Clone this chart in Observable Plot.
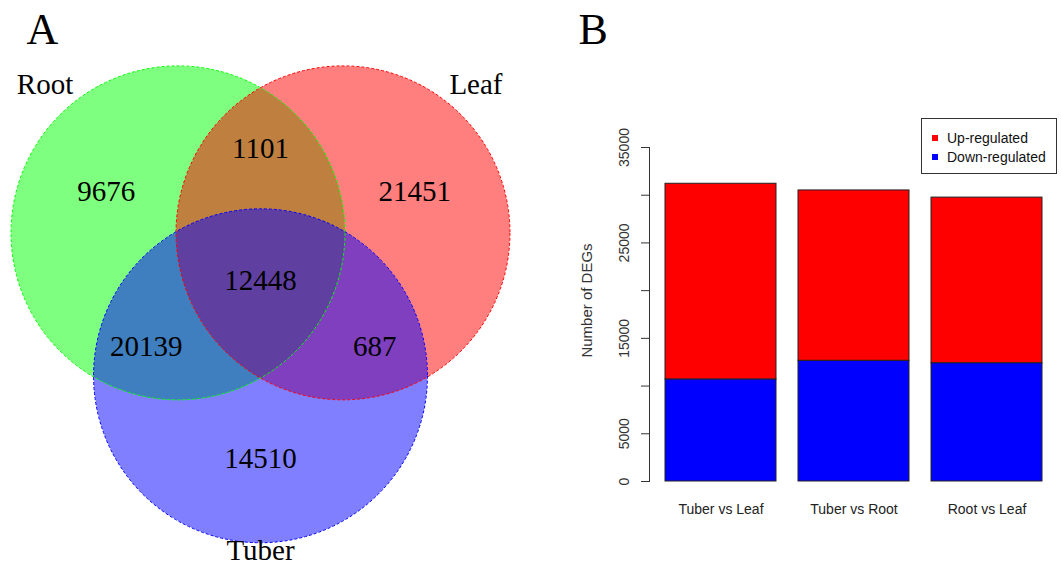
<!DOCTYPE html>
<html>
<head>
<meta charset="utf-8">
<script src="https://cdn.jsdelivr.net/npm/d3@7"></script>
<script src="https://cdn.jsdelivr.net/npm/@observablehq/plot@0.6"></script>
<style>
  body { margin: 0; background: #fff; }
  #wrap { position: relative; width: 1062px; height: 566px; overflow: hidden; background: #fff; }
  #venn { position: absolute; left: 0; top: 0; }
  #bars { position: absolute; left: 530px; top: 0; }
  #legend {
    position: absolute; left: 921px; top: 118px; width: 136px; height: 56px;
    border: 1px solid #333; box-sizing: border-box;
    font-family: "Liberation Sans", Arial, sans-serif; font-size: 14px; color: #111;
  }
  #legend .item { position: absolute; left: 10px; height: 18px; line-height: 18px; white-space: nowrap; }
  #legend .sw { display: inline-block; width: 6px; height: 6px; margin-right: 9px; vertical-align: middle; position: relative; top: -1px; }
</style>
</head>
<body>
<div id="wrap">
  <div id="venn"></div>
  <div id="bars"></div>
  <div id="legend"></div>
</div>
<script>
// ---------- Panel A: Venn diagram data ----------
const setNames = ["Root", "Leaf", "Tuber"];
const setColors = ["#00ff00", "#ff0000", "#0000ff"];
// regions: which sets each region belongs to, and its count
const regionSets = [[0], [1], [2], [0, 1], [0, 2], [1, 2], [0, 1, 2]];
const regionCounts = [9676, 21451, 14510, 1101, 20139, 687, 12448];

// ---------- Panel B: stacked bar data ----------
const comparisons = ["Tuber vs Leaf", "Tuber vs Root", "Root vs Leaf"];
const downRegulated = [10700, 12650, 12400];
const upRegulated = [20500, 17850, 17350];
const regulation = ["Up-regulated", "Down-regulated"];
const regulationColors = ["#ff0000", "#0000ff"];
const yTicks = [0, 5000, 10000, 15000, 20000, 25000, 30000, 35000];
const yTickLabels = [0, 5000, 15000, 25000, 35000];

// ---------- Venn layout (equilateral arrangement, VennDiagram-like) ----------
const unitPx = 165;            // pixels per unit of centre spacing
const radiusRatio = 1.012;     // circle radius relative to centre spacing
const setAngles = [150, 30, 270];   // direction of each circle centre from centroid
const catPos = [-42, 42, 180];      // label position around its circle (deg clockwise from north)
const catDist = [0.19, 0.19, 0.045];// label distance beyond circle edge (fraction of radius)
const rad = a => a * Math.PI / 180;
const centreDist = 1 / Math.sqrt(3);
const circles = setNames.map((name, i) => ({
  name, color: setColors[i],
  x: centreDist * Math.cos(rad(setAngles[i])),
  y: centreDist * Math.sin(rad(setAngles[i]))
}));
const regions = regionSets.map((s, k) => {
  let x = 0, y = 0;
  if (s.length === 1) {
    const a = rad(setAngles[s[0]]);
    x = 1.08 * Math.cos(a); y = 1.08 * Math.sin(a);
  } else if (s.length === 2) {
    const other = [0, 1, 2].find(i => !s.includes(i));
    const a = rad(setAngles[other] + 180);
    x = 0.80 * Math.cos(a); y = 0.80 * Math.sin(a);
  }
  return {x, y, count: regionCounts[k]};
});
const setLabels = circles.map((c, i) => {
  const a = rad(90 - catPos[i]);
  const d = radiusRatio * (1 + catDist[i]);
  return {name: c.name, x: c.x + d * Math.cos(a), y: c.y + d * Math.sin(a)};
});

const vennW = 530, vennH = 566, cxPx = 260, cyPx = 280;
const serif = "'Liberation Serif', 'Times New Roman', serif";
const venn = Plot.plot({
  width: vennW, height: vennH,
  margin: 0,
  x: {domain: [-cxPx / unitPx, (vennW - cxPx) / unitPx], range: [0, vennW], axis: null},
  y: {domain: [-(vennH - cyPx) / unitPx, cyPx / unitPx], range: [vennH, 0], axis: null},
  style: {fontFamily: serif, background: "white", overflow: "visible"},
  marks: [
    Plot.dot(circles, {x: "x", y: "y", r: radiusRatio * unitPx, fill: "color", fillOpacity: 0.5, stroke: "none"}),
    Plot.dot(circles, {x: "x", y: "y", r: radiusRatio * unitPx, fill: "none", stroke: "color", strokeWidth: 1, strokeDasharray: "3,2"}),
    Plot.text(regions, {x: "x", y: "y", text: d => String(d.count), fontSize: 29, fill: "#000", fontFamily: serif}),
    Plot.text(setLabels, {x: "x", y: "y", text: "name", fontSize: 29, fill: "#000", fontFamily: serif}),
    Plot.text(["A"], {frameAnchor: "top-left", textAnchor: "start", lineAnchor: "top", dx: 26, dy: 12, fontSize: 44, fill: "#000", fontFamily: serif})
  ]
});
document.getElementById("venn").appendChild(venn);

// ---------- Panel B: stacked bars ----------
const sans = "'Liberation Sans', Arial, sans-serif";
const barRows = [];
comparisons.forEach((c, i) => {
  barRows.push({comparison: c, type: "Down-regulated", value: downRegulated[i]});
  barRows.push({comparison: c, type: "Up-regulated", value: upRegulated[i]});
});
const bars = Plot.plot({
  width: 532, height: 566,
  marginLeft: 119, marginRight: 4, marginTop: 147, marginBottom: 85,
  style: {fontFamily: sans, background: "transparent", overflow: "visible"},
  x: {domain: comparisons, paddingInner: 0.2 / 1.2, paddingOuter: 0.136 / 1.2, label: null},
  y: {domain: [0, 35000], label: null},
  color: {domain: regulation, range: regulationColors},
  marks: [
    Plot.barY(barRows, {x: "comparison", y: "value", fill: "type", stroke: "#222", strokeWidth: 1, order: null}),
    Plot.axisX({tickSize: 0, tickPadding: 23, fontSize: 14, fill: "#222", label: null}),
    Plot.axisY({ticks: yTicks, tickSize: 8, tickFormat: () => "", label: null, stroke: "#333"}),
    Plot.frame({anchor: "left", stroke: "#333"}),
    Plot.text(yTickLabels, {y: d => d, text: d => String(d), frameAnchor: "left", rotate: -90, dx: -25, textAnchor: "middle", lineAnchor: "middle", fontSize: 14, fill: "#333", fontFamily: sans}),
    Plot.text(["Number of DEGs"], {frameAnchor: "left", rotate: -90, dx: -62, dy: -14, textAnchor: "middle", lineAnchor: "middle", fontSize: 15, fill: "#333", fontFamily: sans}),
    Plot.text(["B"], {frameAnchor: "top-left", textAnchor: "start", lineAnchor: "top", dx: -71, dy: -135, fontSize: 44, fill: "#000", fontFamily: serif})
  ]
});
document.getElementById("bars").appendChild(bars);

// ---------- legend ----------
const legend = document.getElementById("legend");
regulation.forEach((name, i) => {
  const item = document.createElement("div");
  item.className = "item";
  item.style.top = (10 + i * 19) + "px";
  const sw = document.createElement("span");
  sw.className = "sw";
  sw.style.background = regulationColors[i];
  item.appendChild(sw);
  item.appendChild(document.createTextNode(name));
  legend.appendChild(item);
});
</script>
</body>
</html>
